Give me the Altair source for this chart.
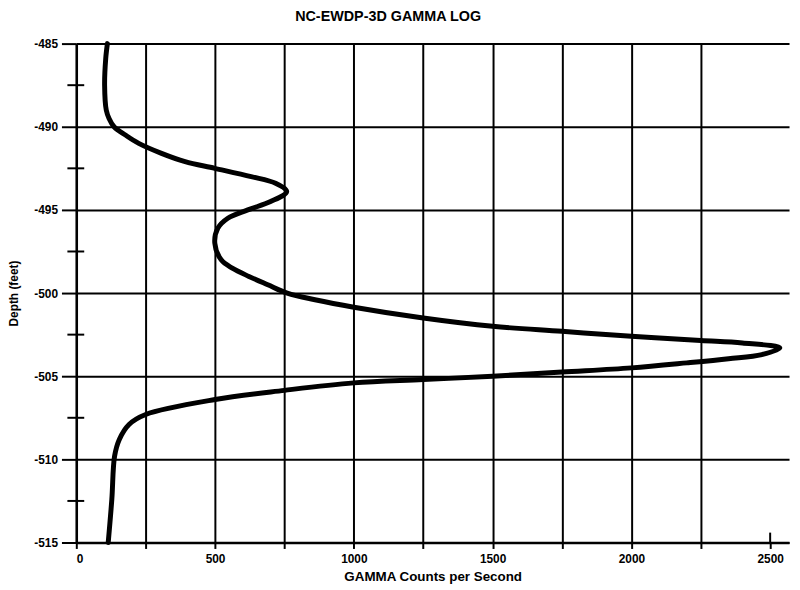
import altair as alt
import pandas as pd

# Gamma log readings (depth in feet, counts per second)
depth = [-485.0, -485.9, -487.5, -489.0, -489.5, -490.0, -490.5, -491.0, -491.6,
         -492.1, -492.5, -493.0, -493.4, -493.9, -494.5, -495.0, -495.5, -496.1,
         -497.0, -498.0, -498.5, -499.0, -499.5, -500.0, -500.4, -500.85, -501.5,
         -502.0, -502.3, -502.6, -502.85, -503.0, -503.3, -503.7, -503.95, -504.2,
         -504.5, -504.75, -505.0, -505.2, -505.4, -505.85, -506.4, -507.3, -507.9,
         -508.8, -509.8, -512.4, -515.0]
gamma = [112, 106, 102, 108, 118, 136, 177, 225, 307,
         392, 499, 630, 718, 758, 700, 618, 546, 510,
         499, 522, 562, 622, 690, 760, 860, 1000, 1250,
         1500, 1750, 2000, 2250, 2400, 2535, 2470, 2350, 2200,
         2000, 1750, 1500, 1250, 1000, 750, 500, 250, 190,
         155, 138, 128, 115]

x_ticks = [0, 250, 500, 750, 1000, 1250, 1500, 1750, 2000, 2250, 2500]
y_ticks = [-515, -510, -505, -500, -495, -490, -485]
y_minor = [-487.5, -492.5, -497.5, -502.5, -507.5, -512.5]
x_no_grid = [2500]

df = pd.DataFrame({"depth": depth, "gamma": gamma, "idx": list(range(len(depth)))})

FONT = "Liberation Sans"
W, H = 720, 504

xscale = alt.Scale(domain=[0, 2568], nice=False, zero=False)
yscale = alt.Scale(domain=[-515, -485], nice=False, zero=False)

line = alt.Chart(df).mark_line(
    color="black", strokeWidth=5, strokeCap="round", strokeJoin="round",
    interpolate="catmull-rom"
).encode(
    x=alt.X("gamma:Q", scale=xscale,
            axis=alt.Axis(values=x_ticks, title="GAMMA Counts per Second",
                          labelExpr="datum.value % 500 == 0 ? toString(datum.value) : ''",
                          grid=True, gridColor="black", gridWidth=2,
                          gridOpacity={"condition": {"test": "datum.value >= 2500", "value": 0}, "value": 1},
                          domainColor="black", domainWidth=2.5,
                          tickColor="black", tickWidth=2, tickSize=6,
                          labelPadding=5, titlePadding=5)),
    y=alt.Y("depth:Q", scale=yscale,
            axis=alt.Axis(values=y_ticks, title="Depth (feet)",
                          labelExpr="toString(datum.value)",
                          grid=True, gridColor="black", gridWidth=2,
                          domainColor="black", domainWidth=2.5,
                          tickColor="black", tickWidth=2, tickSize=15,
                          labelPadding=4, titlePadding=13)),
    order=alt.Order("idx:Q"),
)

minor_y = alt.Chart(pd.DataFrame({"d": y_minor})).mark_rule(
    color="black", strokeWidth=2
).encode(
    y=alt.Y("d:Q", scale=yscale),
    x=alt.value(-9), x2=alt.value(8),
)

minor_x = alt.Chart(pd.DataFrame({"g": x_no_grid})).mark_rule(
    color="black", strokeWidth=2
).encode(
    x=alt.X("g:Q", scale=xscale),
    y=alt.value(H - 10), y2=alt.value(H),
)

chart = alt.layer(line, minor_y, minor_x).properties(
    width=W, height=H,
    title=alt.TitleParams("NC-EWDP-3D GAMMA LOG", fontSize=14.5, font=FONT,
                          fontWeight="bold", anchor="middle", dx=-45, offset=13),
    autosize=alt.AutoSizeParams(type="none"),
    padding={"left": 69, "top": 33, "right": 3, "bottom": 45},
).configure_view(
    strokeWidth=0
).configure_axis(
    labelFont=FONT, titleFont=FONT, labelFontSize=12, titleFontSize=13.5,
    labelFontWeight="bold", titleFontWeight="bold",
    labelColor="black", titleColor="black",
).configure_axisY(
    titleFontSize=12
)

chart.save("out.html", embed_options={"renderer": "svg", "actions": False})
